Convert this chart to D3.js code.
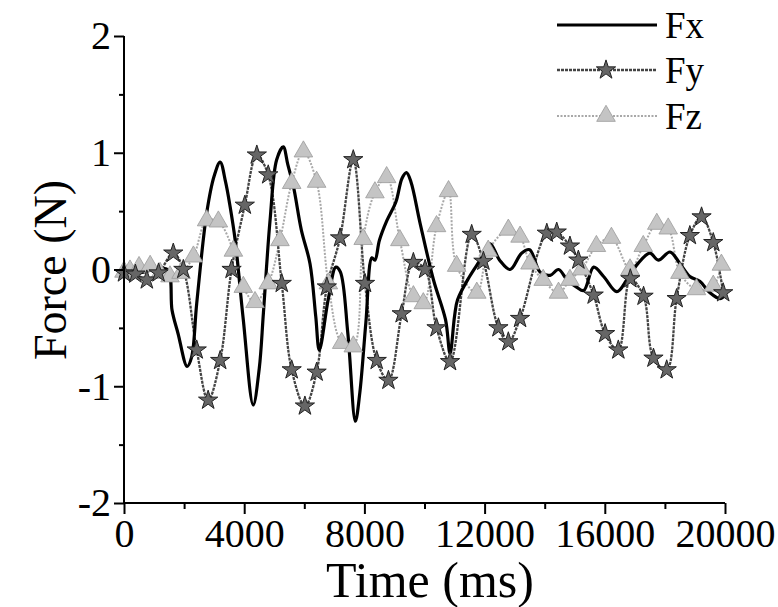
<!DOCTYPE html>
<html>
	<head>
		<meta charset="UTF-8">
		<title>Force vs Time</title>
		<script src="https://cdn.jsdelivr.net/npm/d3@7/dist/d3.min.js"></script>
		<style>
			body { margin: 0; background: #fff; }
			text { font-family: "Liberation Serif", "Times New Roman", serif; fill: #000; }
		</style>
	</head>
	<body>
		<script>
			// data: time in ms, force in N
			var fxTime = [0, 500, 1000, 1450, 1600, 1800, 2100, 2250, 2420, 2750, 3000, 3200, 3380, 3530, 3700, 3970, 4300, 4500, 4640, 4860, 5080, 5300, 5450, 5640, 5900, 6190, 6380, 6500, 6800, 7050, 7200, 7450, 7700, 7850, 8050, 8250, 8350, 8500, 8750, 9050, 9250, 9400, 9550, 9850, 10300, 10700, 10850, 11000, 11100, 11500, 11850, 12180, 12500, 12850, 13230, 13500, 13840, 14180, 14460, 14750, 15060, 15300, 15630, 15960, 16400, 16730, 17100, 17500, 17780, 18170, 18500, 18830, 19160, 19500, 19830, 20000];
			var fxValue = [-0.02, -0.03, 0.0, 0.0, -0.35, -0.55, -0.83, -0.75, -0.29, 0.48, 0.80, 0.92, 0.75, 0.54, 0.25, -0.43, -1.16, -0.85, -0.37, 0.42, 0.94, 1.05, 0.90, 0.71, 0.34, 0.05, -0.40, -0.69, -0.25, 0.02, -0.02, -0.55, -1.30, -1.05, -0.45, 0.10, 0.08, 0.25, 0.42, 0.58, 0.78, 0.83, 0.75, 0.40, -0.09, -0.43, -0.72, -0.40, -0.26, -0.06, 0.08, 0.22, 0.08, 0.0, 0.14, 0.17, -0.02, -0.05, 0.0, -0.09, -0.15, -0.18, 0.02, -0.06, -0.19, -0.09, 0.05, 0.14, 0.08, 0.15, 0.05, -0.06, -0.10, -0.20, -0.25, -0.22];

			var fyTime = [0, 380, 760, 1150, 1640, 1975, 2420, 2800, 3200, 3580, 4020, 4420, 4800, 5250, 5580, 6020, 6410, 6750, 7190, 7630, 8020, 8410, 8800, 9240, 9630, 10020, 10400, 10850, 11570, 11960, 12460, 12790, 13180, 14070, 14400, 14840, 15120, 15630, 16010, 16450, 16850, 17290, 17620, 18060, 18390, 18830, 19220, 19610, 19940];
			var fyValue = [-0.03, -0.04, -0.09, -0.03, 0.14, 0.0, -0.69, -1.12, -0.78, 0.0, 0.55, 0.98, 0.81, -0.12, -0.86, -1.17, -0.88, -0.15, 0.27, 0.94, -0.12, -0.78, -0.95, -0.38, 0.06, 0.0, -0.50, -0.79, 0.30, 0.07, -0.50, -0.62, -0.42, 0.31, 0.32, 0.20, 0.08, -0.22, -0.55, -0.69, -0.08, -0.23, -0.76, -0.86, -0.25, 0.29, 0.45, 0.23, -0.20];

			var fzTime = [0, 200, 500, 870, 1200, 1530, 1900, 2310, 2750, 3140, 3640, 3970, 4360, 4800, 5190, 5580, 5970, 6410, 6800, 7245, 7630, 7960, 8350, 8740, 9180, 9630, 9960, 10400, 10800, 11070, 11740, 12120, 12790, 13180, 13510, 13950, 14460, 14840, 15230, 15720, 16220, 16840, 17280, 17730, 18110, 18500, 19050, 19610, 19880];
			var fzValue = [-0.02, -0.01, 0.02, 0.03, -0.03, -0.06, -0.03, 0.11, 0.42, 0.41, 0.16, -0.15, -0.28, -0.12, 0.25, 0.74, 1.01, 0.75, -0.12, -0.63, -0.66, 0.26, 0.66, 0.79, 0.25, -0.23, -0.29, 0.37, 0.67, 0.03, -0.20, 0.16, 0.34, 0.28, 0.05, -0.09, -0.20, -0.09, 0.0, 0.20, 0.27, 0.0, 0.20, 0.39, 0.35, -0.03, -0.17, -0.14, 0.04];

			var xTicks = [0, 4000, 8000, 12000, 16000, 20000];
			var xMinor = [2000, 6000, 10000, 14000, 18000];
			var yTicks = [-2, -1, 0, 1, 2];
			var yMinor = [-1.5, -0.5, 0.5, 1.5];
			var seriesNames = ["Fx", "Fy", "Fz"];

			function pairs(t, v) {
				return t.map(function (d, i) { return [d, v[i]]; });
			}

			var svg = d3.select("body").append("svg")
				.attr("width", 778)
				.attr("height", 607);

			var x = d3.scaleLinear().domain([0, 20000]).range([124, 725]);
			var y = d3.scaleLinear().domain([-2, 2]).range([503, 36]);

			var line = d3.line()
				.x(function (d) { return x(d[0]); })
				.y(function (d) { return y(d[1]); })
				.curve(d3.curveCatmullRom.alpha(0.5));

			//Fz: light grey dotted line with triangles
			svg.append("path")
				.datum(pairs(fzTime, fzValue))
				.attr("d", line)
				.attr("fill", "none")
				.attr("stroke", "#a8a8a8")
				.attr("stroke-width", 2)
				.attr("stroke-dasharray", "2,1.5");

			//Fy: dark grey line with stars
			svg.append("path")
				.datum(pairs(fyTime, fyValue))
				.attr("d", line)
				.attr("fill", "none")
				.attr("stroke", "#444")
				.attr("stroke-width", 2.3)
				.attr("stroke-dasharray", "3,1");

			//Fx: thick black line
			svg.append("path")
				.datum(pairs(fxTime, fxValue))
				.attr("d", line)
				.attr("fill", "none")
				.attr("stroke", "#000")
				.attr("stroke-width", 3.2)
				.attr("stroke-linejoin", "round");

			var tri = d3.symbol().type(d3.symbolTriangle).size(150);
			var star = d3.symbol().type(d3.symbolStar).size(115);

			svg.selectAll("path.tri")
				.data(pairs(fzTime, fzValue))
				.enter().append("path")
				.attr("class", "tri")
				.attr("d", tri)
				.attr("transform", function (d) { return "translate(" + x(d[0]) + "," + y(d[1]) + ")"; })
				.attr("fill", "#c4c4c4")
				.attr("stroke", "#9a9a9a")
				.attr("stroke-width", 0.8);

			svg.selectAll("path.star")
				.data(pairs(fyTime, fyValue))
				.enter().append("path")
				.attr("class", "star")
				.attr("d", star)
				.attr("transform", function (d) { return "translate(" + x(d[0]) + "," + y(d[1]) + ")"; })
				.attr("fill", "#666")
				.attr("stroke", "#222")
				.attr("stroke-width", 1);

			//axes, plain hyphen for minus like the original
			var fmt = function (d) { return String(d); };
			var xAxis = svg.append("g")
				.attr("transform", "translate(0,503)")
				.call(d3.axisBottom(x).tickValues(xTicks).tickSize(11).tickPadding(5).tickFormat(fmt));
			svg.append("g")
				.attr("transform", "translate(0,503)")
				.call(d3.axisBottom(x).tickValues(xMinor).tickSize(6).tickFormat(""))
				.select(".domain").remove();

			var yAxis = svg.append("g")
				.attr("transform", "translate(124,0)")
				.call(d3.axisLeft(y).tickValues(yTicks).tickSize(10).tickPadding(3).tickFormat(fmt));
			svg.append("g")
				.attr("transform", "translate(124,0)")
				.call(d3.axisLeft(y).tickValues(yMinor).tickSize(5).tickFormat(""))
				.select(".domain").remove();

			svg.selectAll(".domain").attr("stroke-width", 2);
			xAxis.select(".domain").attr("d", "M124,0H725");
			yAxis.select(".domain").attr("d", "M0,36V503");
			svg.selectAll(".tick line").attr("stroke-width", 2);
			svg.selectAll(".tick text")
				.style("font-family", "'Liberation Serif', serif")
				.style("font-size", "40px");

			//axis titles
			svg.append("text")
				.attr("x", 430)
				.attr("y", 597)
				.attr("text-anchor", "middle")
				.style("font-size", "50px")
				.text("Time (ms)");

			svg.append("text")
				.attr("transform", "translate(66,270) rotate(-90)")
				.attr("text-anchor", "middle")
				.style("font-size", "46px")
				.text("Force (N)");

			//legend
			var legY = [25, 70, 116];
			var leg = svg.append("g");
			leg.append("line").attr("x1", 557).attr("x2", 657).attr("y1", legY[0]).attr("y2", legY[0])
				.attr("stroke", "#000").attr("stroke-width", 3.2);
			leg.append("line").attr("x1", 557).attr("x2", 657).attr("y1", legY[1]).attr("y2", legY[1])
				.attr("stroke", "#444").attr("stroke-width", 2.3).attr("stroke-dasharray", "3,1");
			leg.append("line").attr("x1", 557).attr("x2", 657).attr("y1", legY[2]).attr("y2", legY[2])
				.attr("stroke", "#a8a8a8").attr("stroke-width", 2).attr("stroke-dasharray", "2,1.5");
			leg.append("path").attr("d", star).attr("transform", "translate(606," + legY[1] + ")")
				.attr("fill", "#666").attr("stroke", "#222").attr("stroke-width", 1);
			leg.append("path").attr("d", tri).attr("transform", "translate(606," + legY[2] + ")")
				.attr("fill", "#c4c4c4").attr("stroke", "#9a9a9a").attr("stroke-width", 0.8);
			leg.selectAll("text")
				.data(seriesNames)
				.enter().append("text")
				.attr("x", 665)
				.attr("y", function (d, i) { return legY[i]; })
				.attr("dy", "0.35em")
				.style("font-size", "37px")
				.text(function (d) { return d; });
		</script>
	</body>
</html>
